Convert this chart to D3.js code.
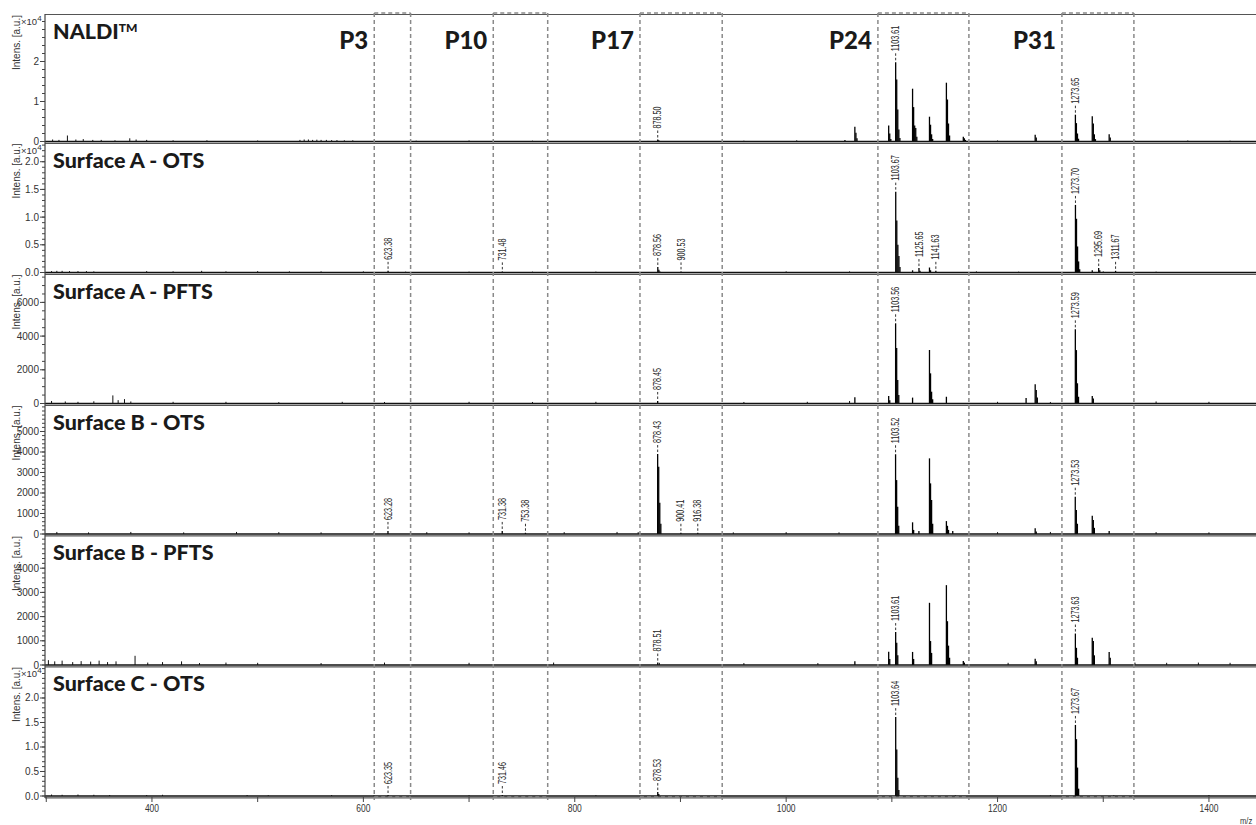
<!DOCTYPE html>
<html><head><meta charset="utf-8">
<script src="https://cdn.jsdelivr.net/npm/d3@7"></script>
<style>body{margin:0;background:#fff;overflow:hidden}svg{display:block}</style>
</head><body><svg id="c" width="1256" height="825"></svg>
<script>
// ---------------- DATA ----------------
const panelNames = ["NALDI", "Surface A - OTS", "Surface A - PFTS", "Surface B - OTS", "Surface B - PFTS", "Surface C - OTS"];
const yMax = [31875, 23470, 7715, 6317, 5372, 26530];
const yMajorTicks = [
  [0, 10000, 20000],
  [0, 5000, 10000, 15000, 20000],
  [0, 2000, 4000, 6000],
  [0, 1000, 2000, 3000, 4000, 5000],
  [0, 1000, 2000, 3000, 4000],
  [0, 5000, 10000, 15000, 20000]
];
const yMajorLabels = [
  ["0", "1", "2"],
  ["0.0", "0.5", "1.0", "1.5", "2.0"],
  ["0", "2000", "4000", "6000"],
  ["0", "1000", "2000", "3000", "4000", "5000"],
  ["0", "1000", "2000", "3000", "4000"],
  ["0.0", "0.5", "1.0", "1.5", "2.0"]
];
const yMinorStep = [2000, 1000, 500, 200, 200, 1000];
const sciNote = [true, true, false, false, false, true];

const xMajorTicks = [400, 600, 800, 1000, 1200, 1400];
const xMinorTicks = [300, 500, 700, 900, 1100, 1300];
const xDomain = [298.8, 1450];

const regionLabels = ["P3", "P10", "P17", "P24", "P31"];
const regionLo = [610.3, 722.9, 861.7, 1086.8, 1260.9];
const regionHi = [644.7, 774.4, 939.5, 1172.9, 1329.0];

// peaks [m/z, intensity]
const peaksNALDI = [
  [878.5, 500], [879.5, 300],
  [1055.6, 400],
  [1065.0, 3700], [1066.0, 2200], [1067.0, 800],
  [1097.0, 4000], [1098.0, 2000], [1099.0, 600],
  [1103.61, 19800], [1104.6, 15500], [1105.6, 8000], [1106.6, 3000], [1107.6, 900],
  [1119.6, 13200], [1120.6, 8600], [1121.6, 4000], [1122.6, 3400], [1123.6, 1200],
  [1135.6, 6200], [1136.6, 4200], [1137.6, 1800], [1138.6, 600],
  [1151.6, 14700], [1152.6, 10500], [1153.6, 4500], [1154.6, 1500],
  [1167.6, 1200], [1168.6, 800], [1169.6, 400],
  [1235.6, 1700], [1236.6, 1000],
  [1273.65, 6700], [1274.6, 4600], [1275.6, 2000], [1276.6, 700],
  [1289.6, 6300], [1290.6, 4500], [1291.6, 1800], [1292.6, 600],
  [1305.6, 1800], [1306.6, 1000]
];
const peaksAOTS = [
  [623.38, 300], [731.48, 200],
  [878.56, 1000], [879.56, 500], [880.5, 200],
  [900.53, 200],
  [1103.67, 14600], [1104.67, 9400], [1105.67, 5000], [1106.67, 3000], [1107.67, 1000],
  [1119.6, 400],
  [1125.65, 800], [1126.6, 300],
  [1135.6, 900], [1136.6, 400],
  [1141.63, 300],
  [1273.70, 12200], [1274.7, 9700], [1275.7, 4700], [1276.7, 2000], [1277.7, 600],
  [1289.6, 400],
  [1295.69, 800], [1296.7, 400],
  [1311.67, 300]
];
const peaksAPFTS = [
  [878.45, 150],
  [1065.0, 370], [1097.0, 450], [1098.0, 200],
  [1103.56, 4760], [1104.56, 3290], [1105.56, 1390], [1106.56, 500],
  [1119.6, 350],
  [1135.6, 3175], [1136.6, 1790], [1137.6, 700], [1138.6, 250],
  [1151.6, 400],
  [1227.0, 330], [1235.6, 1140], [1236.6, 800], [1237.6, 350],
  [1273.59, 4400], [1274.59, 3170], [1275.59, 1200], [1276.6, 400],
  [1289.6, 450], [1290.6, 300]
];
const peaksBOTS = [
  [623.28, 150], [731.38, 150], [753.38, 60],
  [878.43, 3900], [879.43, 3280], [880.43, 1530], [881.43, 500],
  [900.41, 60], [916.38, 60],
  [1103.52, 3890], [1104.52, 2630], [1105.52, 1330], [1106.5, 400],
  [1119.6, 570], [1120.6, 200],
  [1125.6, 150],
  [1135.6, 3690], [1136.6, 2470], [1137.6, 1660], [1138.6, 500],
  [1151.6, 630], [1152.6, 400], [1153.6, 200],
  [1157.6, 150],
  [1235.6, 280], [1236.6, 120],
  [1273.53, 1820], [1274.53, 1170], [1275.53, 500],
  [1289.6, 890], [1290.6, 680], [1291.6, 300],
  [1305.6, 150]
];
const peaksBPFTS = [
  [878.51, 100],
  [1065.0, 150],
  [1097.0, 550], [1098.0, 250],
  [1103.61, 1360], [1104.61, 920], [1105.6, 400],
  [1119.6, 540], [1120.6, 250],
  [1135.6, 2570], [1136.6, 990], [1137.6, 500],
  [1151.6, 3300], [1152.6, 1810], [1153.6, 800], [1154.6, 300],
  [1167.6, 170], [1168.6, 100],
  [1235.6, 260], [1236.6, 150],
  [1273.63, 1300], [1274.63, 710], [1275.6, 300],
  [1289.6, 1130], [1290.6, 990], [1291.6, 400],
  [1305.6, 540], [1306.6, 300]
];
const peaksCOTS = [
  [623.35, 200], [731.46, 200],
  [878.53, 800], [879.5, 400],
  [1103.64, 16100], [1104.64, 9500], [1105.64, 3700], [1106.6, 1200],
  [1273.67, 14500], [1274.67, 11600], [1275.67, 5800], [1276.7, 1500]
];

// baseline noise [m/z, intensity]
const noiseNALDI = [[306,500],[312,400],[320,1500],[328,500],[335,600],[344,400],[352,400],[365,300],[379,800],[385,500],[395,400],[420,300],[452,300],[500,250],[540,400],[544,500],[548,500],[552,400],[556,450],[560,400],[565,400],[570,350],[575,350],[582,300],[590,300],[650,200],[700,250],[760,200],[960,200],[1010,300],[1200,250],[1330,200],[1380,250],[1420,200]];
const noiseAOTS = [[305,250],[310,300],[315,300],[322,250],[330,250],[338,250],[345,200],[395,250],[420,200],[447,300],[470,200],[500,250],[530,200],[560,200],[600,200],[640,150],[700,150],[760,150],[820,150],[1000,200],[1060,200],[1180,200],[1220,150],[1300,200],[1350,150]];
const noiseAPFTS = [[305,150],[318,120],[330,100],[345,130],[363,480],[368,200],[374,260],[380,120],[420,100],[470,100],[520,80],[580,100],[620,90],[700,100],[760,90],[820,100],[960,90],[1020,100],[1060,150],[1200,100],[1250,90],[1350,120],[1400,100]];
const noiseBOTS = [[310,100],[340,80],[380,100],[430,80],[480,100],[520,90],[560,80],[610,100],[660,90],[700,80],[790,90],[840,100],[860,90],[950,80],[1000,90],[1050,80],[1200,90],[1250,100],[1350,90],[1400,80]];
const noiseBPFTS = [[302,200],[308,150],[315,180],[325,120],[333,160],[342,140],[350,180],[358,120],[366,150],[384,380],[396,100],[410,120],[428,150],[445,80],[470,100],[500,90],[560,80],[620,100],[700,90],[780,100],[880,90],[960,80],[1030,80],[1210,90],[1330,100],[1360,90],[1390,100],[1420,90]];
const noiseCOTS = [[305,300],[315,250],[330,300],[345,250],[360,200],[395,200],[410,250],[490,200],[510,150],[570,200],[610,150],[700,150],[820,150],[1160,150],[1250,200],[1310,150],[1400,200]];

// peak annotations
const labelsNALDI = ["878.50", "1103.61", "1273.65"];
const labelsAOTS = ["623.38", "731.48", "878.56", "900.53", "1103.67", "1125.65", "1141.63", "1273.70", "1295.69", "1311.67"];
const labelsAPFTS = ["878.45", "1103.56", "1273.59"];
const labelsBOTS = ["623.28", "731.38", "753.38", "878.43", "900.41", "916.38", "1103.52", "1273.53"];
const labelsBPFTS = ["878.51", "1103.61", "1273.63"];
const labelsCOTS = ["623.35", "731.46", "878.53", "1103.64", "1273.67"];

const allPeaks = [peaksNALDI, peaksAOTS, peaksAPFTS, peaksBOTS, peaksBPFTS, peaksCOTS];
const allNoise = [noiseNALDI, noiseAOTS, noiseAPFTS, noiseBOTS, noiseBPFTS, noiseCOTS];
const allLabels = [labelsNALDI, labelsAOTS, labelsAPFTS, labelsBOTS, labelsBPFTS, labelsCOTS];

// ---------------- LAYOUT ----------------
const svg = d3.select("#c");
const left = 45;
const bounds = [14, 142.5, 273.5, 404.5, 535, 666, 797];
const x = d3.scaleLinear().domain(xDomain).range([left, 1261.8]);
const sansN = "'Liberation Sans', Arial, sans-serif";
const titleFont = "Lato, 'Open Sans', sans-serif";

svg.append("defs").append("clipPath").attr("id", "plotclip")
  .append("rect").attr("x", left).attr("y", 0).attr("width", 1300).attr("height", 797);

panelNames.forEach((name, i) => {
  const top = bounds[i], bot = bounds[i + 1];
  const zero = bot - 1;
  const y = d3.scaleLinear().domain([0, yMax[i]]).range([zero, top]);
  const g = svg.append("g");
  const pg = g.append("g").attr("clip-path", "url(#plotclip)");

  pg.selectAll("line.n").data(allNoise[i]).join("line")
    .attr("x1", d => x(d[0])).attr("x2", d => x(d[0]))
    .attr("y1", y(0)).attr("y2", d => y(d[1]))
    .attr("stroke", "#111").attr("stroke-width", 1);
  pg.selectAll("line.p").data(allPeaks[i]).join("line")
    .attr("x1", d => x(d[0])).attr("x2", d => x(d[0]))
    .attr("y1", y(0)).attr("y2", d => y(d[1]))
    .attr("stroke", "#000").attr("stroke-width", 1.3);
  pg.append("line").attr("x1", left).attr("x2", 1300)
    .attr("y1", y(0)).attr("y2", y(0)).attr("stroke", "#111").attr("stroke-width", 1.4);
  g.append("line").attr("x1", left).attr("x2", 1300)
    .attr("y1", bot + 0.8).attr("y2", bot + 0.8).attr("stroke", "#555").attr("stroke-width", 1.2);

  allLabels[i].forEach(t => {
    const mz = parseFloat(t);
    const near = allPeaks[i].filter(p => Math.abs(p[0] - mz) < 0.6);
    const v = near.length ? d3.max(near, p => p[1]) : 0;
    const px = x(mz), py = y(v);
    g.append("line").attr("x1", px).attr("x2", px)
      .attr("y1", py - 2).attr("y2", py - 10)
      .attr("stroke", "#333").attr("stroke-width", 1).attr("stroke-dasharray", "2.5,2");
    g.append("text")
      .attr("transform", `translate(${px},${py - 11}) rotate(-90) scale(0.72,1)`)
      .attr("dy", "0.36em").attr("font-family", sansN).attr("font-size", 10)
      .attr("fill", "#222").text(t);
  });

  const minors = d3.range(0, yMax[i], yMinorStep[i]);
  g.selectAll("line.mt").data(minors).join("line")
    .attr("x1", left - 3).attr("x2", left).attr("y1", d => y(d)).attr("y2", d => y(d))
    .attr("stroke", "#444").attr("stroke-width", 1);
  yMajorTicks[i].forEach((v, k) => {
    g.append("line").attr("x1", left - 5).attr("x2", left).attr("y1", y(v)).attr("y2", y(v))
      .attr("stroke", "#444").attr("stroke-width", 1);
    g.append("text").attr("x", left - 6).attr("y", y(v)).attr("dy", "0.35em")
      .attr("text-anchor", "end").attr("font-family", sansN).attr("font-size", 10)
      .attr("fill", "#333").text(yMajorLabels[i][k]);
  });
  g.append("text").attr("transform", `translate(20,${top + 1}) rotate(-90)`)
    .attr("text-anchor", "end").attr("font-family", sansN).attr("font-size", 10)
    .attr("fill", "#333").text("Intens. [a.u.]");
  if (sciNote[i]) {
    const s = g.append("text").attr("x", 21).attr("y", top + 11)
      .attr("font-family", sansN).attr("font-size", 9.5).attr("fill", "#333");
    s.append("tspan").text("\u00d710");
    s.append("tspan").attr("dy", -4).attr("font-size", 8).text("4");
  }

  const tt = g.append("text").attr("x", 53).attr("y", top + 25)
    .attr("font-family", titleFont).attr("font-weight", 900).attr("font-size", 21.5)
    .attr("fill", "#1a1a1a");
  if (i === 0) {
    tt.append("tspan").text("NALDI");
    tt.append("tspan").attr("dy", -7).attr("font-size", 12).text("TM");
  } else {
    tt.text(name);
  }
});

svg.append("line").attr("x1", left).attr("x2", 1300).attr("y1", 14.5).attr("y2", 14.5)
  .attr("stroke", "#555").attr("stroke-width", 1.2);
svg.append("line").attr("x1", left).attr("x2", left).attr("y1", 14).attr("y2", 798)
  .attr("stroke", "#444").attr("stroke-width", 1.2);

const rg = svg.append("g").attr("fill", "none").attr("stroke", "#8a8a8a")
  .attr("stroke-width", 1.5).attr("stroke-dasharray", "4,3");
regionLabels.forEach((lab, k) => {
  const x0 = x(regionLo[k]), x1 = x(regionHi[k]);
  rg.append("line").attr("x1", x0).attr("x2", x0).attr("y1", 13).attr("y2", 800);
  rg.append("line").attr("x1", x1).attr("x2", x1).attr("y1", 13).attr("y2", 800);
  rg.append("line").attr("x1", x0).attr("x2", x1).attr("y1", 13).attr("y2", 13);
  rg.append("line").attr("x1", x0).attr("x2", x1).attr("y1", 797).attr("y2", 797);
  svg.append("text").attr("x", x0 - 6).attr("y", 49).attr("text-anchor", "end")
    .attr("font-family", titleFont).attr("font-weight", 900).attr("font-size", 24)
    .attr("fill", "#1a1a1a").text(lab);
});

const xa = svg.append("g");
xa.selectAll("line.mj").data(xMajorTicks.concat(xMinorTicks)).join("line")
  .attr("x1", d => x(d)).attr("x2", d => x(d)).attr("y1", 797).attr("y2", 802)
  .attr("stroke", "#444").attr("stroke-width", 1);
xa.selectAll("text").data(xMajorTicks).join("text")
  .attr("transform", d => `translate(${x(d)},812) scale(0.85,1)`)
  .attr("text-anchor", "middle").attr("font-family", sansN).attr("font-size", 10)
  .attr("fill", "#333").text(d => d);
svg.append("text").attr("transform", "translate(1240,824) scale(0.85,1)")
  .attr("font-family", sansN).attr("font-size", 9).attr("fill", "#333").text("m/z");
</script>
</body></html>
